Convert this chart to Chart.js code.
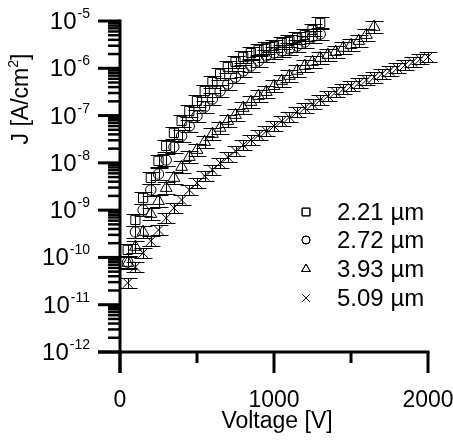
<!DOCTYPE html>
<html>
<head>
<meta charset="utf-8">
<script src="https://cdn.jsdelivr.net/npm/chart.js@4.4.1/dist/chart.umd.min.js"></script>
<style>
  html, body { margin: 0; padding: 0; background: #fff; }
</style>
</head>
<body>
<canvas id="c" width="453" height="448"></canvas>
<script>
// --- data ---
const seriesLabels = ['2.21 µm', '2.72 µm', '3.93 µm', '5.09 µm'];
const pointStyles = ['rect', 'circle', 'triangle', 'crossRot'];

const volts221 = [50, 100, 150, 200, 250, 300, 350, 400, 450, 500, 550, 600, 650,
  700, 750, 800, 850, 900, 950, 1000, 1050, 1100, 1150, 1200, 1250, 1300];
const j221 = [1.44e-10, 6.2e-10, 1.81e-9, 4.8e-9, 1.10e-8, 2.28e-8, 4.3e-8, 7.7e-8, 1.25e-7,
  2.04e-7, 3.3e-7, 5.1e-7, 7.6e-7, 1.06e-6, 1.36e-6, 1.73e-6, 2.1e-6, 2.44e-6, 2.7e-6,
  2.96e-6, 3.43e-6, 3.78e-6, 4.37e-6, 5.06e-6, 6.45e-6, 9.1e-6];

const volts272 = [50, 100, 150, 200, 250, 300, 350, 400, 450, 500, 550, 600, 650,
  700, 750, 800, 850, 900, 950, 1000, 1050, 1100, 1150, 1200, 1250, 1300];
const j272 = [8.0e-11, 3.46e-10, 1.01e-9, 2.67e-9, 5.8e-9, 1.15e-8, 2.17e-8, 3.7e-8, 6.0e-8,
  9.8e-8, 1.52e-7, 2.24e-7, 3.3e-7, 4.66e-7, 6.5e-7, 8.8e-7, 1.12e-6, 1.43e-6, 1.82e-6,
  2.1e-6, 2.32e-6, 2.56e-6, 2.96e-6, 3.6e-6, 4.6e-6, 5.3e-6];

const volts393 = [50, 100, 150, 200, 250, 300, 350, 400, 450, 500, 550, 600, 650, 700, 750,
  800, 850, 900, 950, 1000, 1050, 1100, 1150, 1200, 1250, 1300, 1350, 1400, 1450, 1500,
  1550, 1600, 1650];
const j393 = [7.65e-11, 1.67e-10, 3.46e-10, 8.3e-10, 1.56e-9, 2.94e-9, 4.8e-9, 8.2e-9, 1.33e-8,
  1.87e-8, 2.77e-8, 4.08e-8, 5.5e-8, 7.7e-8, 1.03e-7, 1.45e-7, 1.94e-7, 2.6e-7, 3.15e-7,
  4.2e-7, 5.4e-7, 6.9e-7, 8.8e-7, 1.12e-6, 1.36e-6, 1.65e-6, 1.91e-6, 2.21e-6, 2.7e-6,
  3.1e-6, 3.78e-6, 5.06e-6, 7.5e-6];

const volts509 = [50, 100, 150, 200, 250, 300, 350, 400, 450, 500, 550, 600, 650, 700, 750,
  800, 850, 900, 950, 1000, 1050, 1100, 1150, 1200, 1250, 1300, 1350, 1400, 1450, 1500,
  1550, 1600, 1650, 1700, 1750, 1800, 1850, 1900, 1950, 2000];
const j509 = [2.89e-11, 6.3e-11, 1.24e-10, 2.23e-10, 3.81e-10, 6.8e-10, 1.11e-9, 1.64e-9,
  2.67e-9, 3.76e-9, 5.3e-9, 7.1e-9, 9.95e-9, 1.33e-8, 1.79e-8, 2.39e-8, 3.05e-8, 3.89e-8,
  4.72e-8, 6.0e-8, 7.7e-8, 9.3e-8, 1.19e-7, 1.45e-7, 1.76e-7, 2.14e-7, 2.6e-7, 3.15e-7,
  3.65e-7, 4.2e-7, 4.89e-7, 5.66e-7, 6.5e-7, 7.6e-7, 8.8e-7, 1.01e-6, 1.17e-6, 1.36e-6,
  1.57e-6, 1.73e-6];

// relative error (multiplicative) used for the error bars of each series
const errFactors = [1.33, 1.33, 1.33, 1.3];

// axis ticks
const yTickExps = [-12, -11, -10, -9, -8, -7, -6, -5];
const xMajorTicks = [0, 1000, 2000];
const xMinorTicks = [500, 1500];

const FONT = '"Liberation Sans", Arial, Helvetica, sans-serif';

const allVolts = [volts221, volts272, volts393, volts509];
const allJ = [j221, j272, j393, j509];
const radii = [6.5, 5.2, 6.8, 7];

const datasets = seriesLabels.map((label, i) => ({
  label,
  data: allVolts[i].map((v, k) => ({ x: v, y: allJ[i][k] })),
  pointStyle: pointStyles[i],
  pointRadius: radii[i],
  pointBorderColor: '#000',
  pointBackgroundColor: 'rgba(0,0,0,0)',
  pointBorderWidth: 1,
  showLine: false,
  clip: false
}));

function drawText(ctx, s, x, y, size, align) {
  ctx.font = size + 'px ' + FONT;
  ctx.textAlign = align || 'left';
  ctx.textBaseline = 'alphabetic';
  ctx.fillText(s, x, y);
}

const errorBars = {
  id: 'errorBars',
  beforeDatasetsDraw(chart) {
    const { ctx, scales: { x, y } } = chart;
    ctx.save();
    ctx.strokeStyle = '#000';
    ctx.lineWidth = 1;
    chart.data.datasets.forEach((ds, di) => {
      const f = errFactors[di];
      ds.data.forEach(p => {
        const px = Math.round(x.getPixelForValue(p.x)) + 0.5;
        const yt = Math.round(y.getPixelForValue(p.y * f)) + 0.5;
        const yb = Math.round(y.getPixelForValue(p.y / f)) + 0.5;
        ctx.beginPath();
        ctx.moveTo(px, yt); ctx.lineTo(px, yb);
        ctx.moveTo(px - 9, yt); ctx.lineTo(px + 9, yt);
        ctx.moveTo(px - 9, yb); ctx.lineTo(px + 9, yb);
        ctx.stroke();
      });
    });
    ctx.restore();
  }
};

const axesDeco = {
  id: 'axesDeco',
  afterDraw(chart) {
    const { ctx, scales: { x, y } } = chart;
    const x0 = x.getPixelForValue(0);
    const y0 = y.getPixelForValue(1e-12);
    ctx.save();
    ctx.fillStyle = '#000';
    ctx.strokeStyle = '#000';
    ctx.lineCap = 'butt';

    // axis lines
    ctx.lineWidth = 3;
    ctx.beginPath();
    ctx.moveTo(x0, y.getPixelForValue(1e-5) - 1.5);
    ctx.lineTo(x0, y0 + 21);
    ctx.moveTo(x0 - 22, y0);
    ctx.lineTo(x.getPixelForValue(2000) + 1.5, y0);
    ctx.stroke();

    // y ticks
    yTickExps.forEach(e => {
      const v = Math.pow(10, e);
      const py = y.getPixelForValue(v);
      ctx.lineWidth = 3;
      ctx.beginPath();
      ctx.moveTo(x0 - 22, py); ctx.lineTo(x0, py);
      ctx.stroke();
      if (e < -5) {
        ctx.lineWidth = 2.5;
        for (let m = 2; m <= 9; m++) {
          const pm = y.getPixelForValue(m * v);
          ctx.beginPath();
          ctx.moveTo(x0 - 12, pm); ctx.lineTo(x0, pm);
          ctx.stroke();
        }
      }
      // label 10^e
      const sup = String(e);
      ctx.font = '14px ' + FONT;
      const wSup = ctx.measureText(sup).width;
      const right = 90;
      drawText(ctx, sup, right, py - 3, 14, 'right');
      drawText(ctx, '10', right - wSup - 1, py + 8, 24, 'right');
    });

    // x ticks
    ctx.lineWidth = 3;
    xMajorTicks.forEach(v => {
      const px = x.getPixelForValue(v);
      ctx.beginPath();
      ctx.moveTo(px, y0); ctx.lineTo(px, y0 + 21);
      ctx.stroke();
      drawText(ctx, String(v), px, y0 + 55, 23, 'center');
    });
    xMinorTicks.forEach(v => {
      const px = x.getPixelForValue(v);
      ctx.beginPath();
      ctx.moveTo(px, y0); ctx.lineTo(px, y0 + 11);
      ctx.stroke();
    });

    // axis titles
    drawText(ctx, 'Voltage [V]', 277, 428, 23, 'center');
    ctx.save();
    ctx.translate(28, 99);
    ctx.rotate(-Math.PI / 2);
    ctx.font = '23px ' + FONT;
    const p1 = 'J [A/cm', p2 = '2', p3 = ']';
    const w1 = ctx.measureText(p1).width;
    ctx.font = '14px ' + FONT;
    const w2 = ctx.measureText(p2).width;
    ctx.font = '23px ' + FONT;
    const w3 = ctx.measureText(p3).width;
    const sx = -(w1 + w2 + w3) / 2;
    drawText(ctx, p1, sx, 0, 23, 'left');
    drawText(ctx, p2, sx + w1, -10, 14, 'left');
    drawText(ctx, p3, sx + w1 + w2, 0, 23, 'left');
    ctx.restore();

    // legend
    const rowY = [212, 240, 269, 298];
    const legR = [5.5, 4, 5, 5];
    chart.data.datasets.forEach((ds, i) => {
      ctx.lineWidth = 1;
      ctx.fillStyle = 'rgba(0,0,0,0)';
      Chart.helpers.drawPoint(ctx, {
        pointStyle: ds.pointStyle, rotation: 0, radius: legR[i], borderWidth: 1
      }, 306, rowY[i]);
      ctx.stroke();
      ctx.fillStyle = '#000';
      drawText(ctx, ds.label, 337, rowY[i] + 8, 24, 'left');
    });
    ctx.restore();
  }
};

new Chart(document.getElementById('c'), {
  type: 'scatter',
  data: { datasets },
  options: {
    responsive: false,
    animation: false,
    layout: { padding: { left: 0, right: 25, top: 21, bottom: 0 } },
    plugins: { legend: { display: false }, tooltip: { enabled: false } },
    scales: {
      x: {
        type: 'linear', min: 0, max: 2000,
        ticks: { display: false }, grid: { display: false }, border: { display: false },
        afterFit: s => { s.height = 96; }
      },
      y: {
        type: 'logarithmic', min: 1e-12, max: 1e-5,
        ticks: { display: false }, grid: { display: false }, border: { display: false },
        afterFit: s => { s.width = 120; }
      }
    }
  },
  plugins: [errorBars, axesDeco]
});
</script>
</body>
</html>
